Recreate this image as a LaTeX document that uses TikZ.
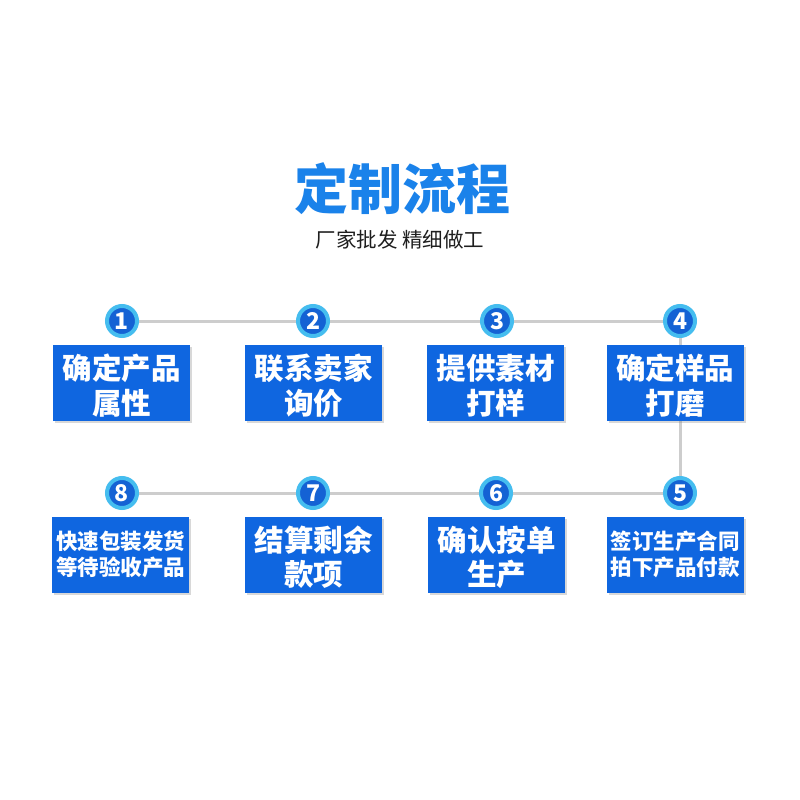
\documentclass[tikz,border=0pt]{standalone}
\usepackage{fontspec}
\newfontfamily\cjk{Noto Sans CJK SC}
\usetikzlibrary{fadings,shadows}
\definecolor{boxblue}{HTML}{0F66E0}
\definecolor{ringcyan}{HTML}{45BDEF}
\definecolor{dotblue}{HTML}{1462D4}
\definecolor{linegray}{HTML}{CDCDCD}
\definecolor{titletop}{HTML}{18C2F8}
\definecolor{titlebot}{HTML}{1B4BE0}
\definecolor{titlemid}{HTML}{1A82EA}
\definecolor{subgray}{HTML}{1E1E1E}
\newcommand\lifttop{\rule{0pt}{31pt}}
\pgfdeclarefading{titlefade}{\color{white}\cjk\bfseries\fontsize{54}{60}\selectfont 定制流程}
\tikzset{
  conn/.style={draw=linegray, line width=3pt},
  dot/.style={circle, fill=dotblue, draw=ringcyan, line width=4pt, minimum size=30pt, inner sep=0pt, text=white, font=\cjk\bfseries\fontsize{23}{23}\selectfont},
  stepbox/.style={rectangle, fill=boxblue, minimum width=137pt, minimum height=76pt, inner sep=0pt, text=white, align=center, drop shadow={opacity=0.3, shadow xshift=2pt, shadow yshift=-2pt}},
  big/.style={font=\cjk\bfseries\fontsize{29.5}{34.5}\selectfont},
  small/.style={font=\cjk\bfseries\fontsize{21.5}{26}\selectfont},
}
\begin{document}
\begin{tikzpicture}[x=1pt,y=-1pt]
\useasboundingbox[fill=white] (0,0) rectangle (800,800);
% title
\node[inner sep=0pt, text=titlemid, font=\cjk\bfseries\fontsize{54}{60}\selectfont] (title) at (402,189) {定制流程};
\begin{scope}[shift={(title.center)}]
  \shade[path fading=titlefade, fit fading=false, top color=titletop, bottom color=titlebot] (-135,-38) rectangle (135,38);
\end{scope}
\node[inner sep=0pt, text=subgray, font=\cjk\fontsize{20.5}{20.5}\selectfont] (sub) at (400,240) {厂家批发 精细做工};
% numbered dots
\node[dot] (c1) at (122,321) {1};
\node[dot] (c2) at (313,321) {2};
\node[dot] (c3) at (497,321) {3};
\node[dot] (c4) at (680,321) {4};
\node[dot] (c5) at (680,493) {5};
\node[dot] (c6) at (496,493) {6};
\node[dot] (c7) at (313,493) {7};
\node[dot] (c8) at (122,493) {8};
% connectors
\draw[conn] (c1) -- (c2);
\draw[conn] (c2) -- (c3);
\draw[conn] (c3) -- (c4);
\draw[conn] (c4) -- (c5);
\draw[conn] (c5) -- (c6);
\draw[conn] (c6) -- (c7);
\draw[conn] (c7) -- (c8);
% boxes
\node[stepbox, big] (b1) at (121.5,383) {{\lifttop}确定产品\\属性};
\node[stepbox, big] (b2) at (313.5,383) {{\lifttop}联系卖家\\询价};
\node[stepbox, big] (b3) at (495.5,383) {{\lifttop}提供素材\\打样};
\node[stepbox, big] (b4) at (675,383) {{\lifttop}确定样品\\打磨};
\node[stepbox, small] (b5) at (675,554.5) {签订生产合同\\拍下产品付款};
\node[stepbox, big] (b6) at (496.5,554.5) {{\lifttop}确认按单\\生产};
\node[stepbox, big] (b7) at (313.5,554.5) {{\lifttop}结算剩余\\款项};
\node[stepbox, small] (b8) at (120.5,554.5) {快速包装发货\\等待验收产品};
\end{tikzpicture}
\end{document}
